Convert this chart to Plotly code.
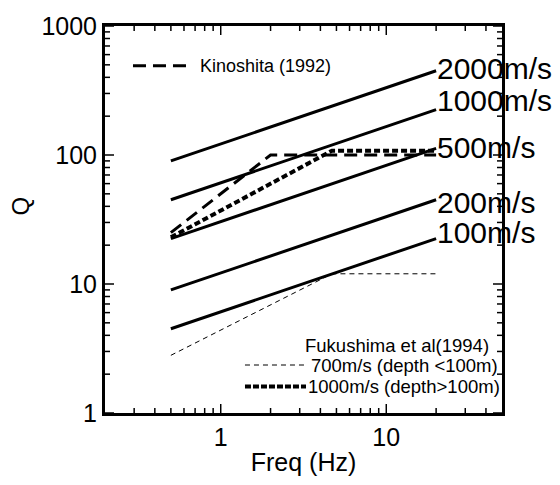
import math
import plotly.graph_objects as go

# ---- data ----
freq_ends = [0.5, 20]
velocity_labels = ["2000m/s", "1000m/s", "500m/s", "200m/s", "100m/s"]
q_at_low = [90, 45, 22.5, 9, 4.5]
q_at_high = [450, 225, 112.5, 45, 22.5]

kinoshita_f = [0.5, 2, 20]
kinoshita_q = [25, 100, 100]

fuku700_f = [0.5, 4.7, 20]
fuku700_q = [2.8, 12, 12]

fuku1000_f = [0.5, 4.7, 20]
fuku1000_q = [23, 108, 108]

x_major = [1, 10]
x_major_text = ["1", "10"]
x_minor = [0.3, 0.4, 0.5, 0.6, 0.7, 0.8, 0.9, 2, 3, 4, 5, 6, 7, 8, 9, 20, 30, 40]
y_major = [1, 10, 100, 1000]
y_major_text = ["1", "10", "100", "1000"]
y_minor = [2, 3, 4, 5, 6, 7, 8, 9, 20, 30, 40, 50, 60, 70, 80, 90,
           200, 300, 400, 500, 600, 700, 800, 900]

FONT = "Liberation Sans, Arial, Helvetica, sans-serif"
X_LIM = [0.2, 50]
Y_LIM = [1, 1000]
X_RANGE = [math.log10(X_LIM[0]), math.log10(X_LIM[1])]
Y_RANGE = [math.log10(Y_LIM[0]), math.log10(Y_LIM[1])]

fig = go.Figure()

for lab, q0, q1 in zip(velocity_labels, q_at_low, q_at_high):
    fig.add_trace(go.Scatter(x=freq_ends, y=[q0, q1], mode="lines",
                             line=dict(color="black", width=3),
                             name=lab, showlegend=False))

fig.add_trace(go.Scatter(x=kinoshita_f, y=kinoshita_q, mode="lines",
                         line=dict(color="black", width=3, dash="13px,7px"),
                         name="Kinoshita (1992)", showlegend=False))
fig.add_trace(go.Scatter(x=fuku700_f, y=fuku700_q, mode="lines",
                         line=dict(color="black", width=1, dash="5px,4px"),
                         name="700m/s (depth <100m)", showlegend=False))
fig.add_trace(go.Scatter(x=fuku1000_f, y=fuku1000_q, mode="lines",
                         line=dict(color="black", width=4, dash="6px,3px"),
                         name="1000m/s (depth>100m)", showlegend=False))

# right-end labels
label_yshift = [2, 9, 1, -3, 6]
annotations = []
for lab, q1, ys in zip(velocity_labels, q_at_high, label_yshift):
    annotations.append(dict(x=math.log10(freq_ends[1]), y=math.log10(q1),
                            xref="x", yref="y", text=lab, showarrow=False,
                            xanchor="left", yanchor="middle", xshift=-1, yshift=ys,
                            font=dict(family=FONT, size=30, color="black")))

# legend texts
annotations += [
    dict(x=0.234, y=0.897, xref="paper", yref="paper", text="Kinoshita (1992)",
         showarrow=False, xanchor="left", yanchor="middle",
         font=dict(family=FONT, size=18, color="black")),
    dict(x=0.736, y=0.174, xref="paper", yref="paper", text="Fukushima et al(1994)",
         showarrow=False, xanchor="center", yanchor="middle",
         font=dict(family=FONT, size=18.5, color="black")),
    dict(x=0.514, y=0.124, xref="paper", yref="paper", text="700m/s (depth <100m)",
         showarrow=False, xanchor="left", yanchor="middle",
         font=dict(family=FONT, size=18.5, color="black")),
    dict(x=0.506, y=0.0685, xref="paper", yref="paper", text="1000m/s (depth>100m)",
         showarrow=False, xanchor="left", yanchor="middle",
         font=dict(family=FONT, size=18.5, color="black")),
    dict(x=-0.2116, y=0.536, xref="paper", yref="paper", text="Q",
         showarrow=False, textangle=-90, xanchor="center", yanchor="middle",
         font=dict(family=FONT, size=24, color="black")),
]

shapes = [
    dict(type="line", xref="paper", yref="paper", x0=0.0705, x1=0.209, y0=0.897, y1=0.897,
         line=dict(color="black", width=3, dash="13px,7px")),
    dict(type="line", xref="paper", yref="paper", x0=0.3526, x1=0.5038, y0=0.124, y1=0.124,
         line=dict(color="black", width=1, dash="5px,4px")),
    dict(type="line", xref="paper", yref="paper", x0=0.3526, x1=0.5063, y0=0.0685, y1=0.0685,
         line=dict(color="black", width=4, dash="6px,2px")),
]


# inward tick marks on all four sides (drawn as pixel-length shapes)
def xfrac(v):
    return (math.log10(v) - X_RANGE[0]) / (X_RANGE[1] - X_RANGE[0])


def yfrac(v):
    return (math.log10(v) - Y_RANGE[0]) / (Y_RANGE[1] - Y_RANGE[0])


TICK_LINE = dict(color="black", width=1.5)
for vals, length in ((x_major, 9), (x_minor, 5)):
    for v in vals:
        f = xfrac(v)
        shapes.append(dict(type="line", xref="paper", yref="paper", x0=f, x1=f,
                           ysizemode="pixel", yanchor=0, y0=0, y1=length,
                           line=TICK_LINE, layer="above"))
        shapes.append(dict(type="line", xref="paper", yref="paper", x0=f, x1=f,
                           ysizemode="pixel", yanchor=1, y0=0, y1=-length,
                           line=TICK_LINE, layer="above"))
for vals, length in ((y_major, 9), (y_minor, 5)):
    for v in vals:
        f = yfrac(v)
        shapes.append(dict(type="line", xref="paper", yref="paper", y0=f, y1=f,
                           xsizemode="pixel", xanchor=0, x0=0, x1=length,
                           line=TICK_LINE, layer="above"))
        shapes.append(dict(type="line", xref="paper", yref="paper", y0=f, y1=f,
                           xsizemode="pixel", xanchor=1, x0=0, x1=-length,
                           line=TICK_LINE, layer="above"))

fig.update_layout(
    width=560, height=485,
    margin=dict(l=105, r=58, t=25, b=70),
    paper_bgcolor="white", plot_bgcolor="white",
    showlegend=False,
    xaxis=dict(type="log", range=X_RANGE, tickmode="array", tickvals=x_major,
               ticktext=x_major_text, showline=True, linewidth=3,
               linecolor="black", mirror=True, ticks="", showgrid=False, zeroline=False,
               tickfont=dict(family=FONT, size=25, color="black"),
               title=dict(text="Freq (Hz)", standoff=4,
                          font=dict(family=FONT, size=25, color="black"))),
    yaxis=dict(type="log", range=Y_RANGE, tickmode="array", tickvals=y_major,
               ticktext=y_major_text, showline=True, linewidth=3,
               linecolor="black", mirror=True, ticks="", showgrid=False, zeroline=False,
               tickfont=dict(family=FONT, size=25, color="black")),
    annotations=annotations,
    shapes=shapes,
)

fig.write_html("out.html")
